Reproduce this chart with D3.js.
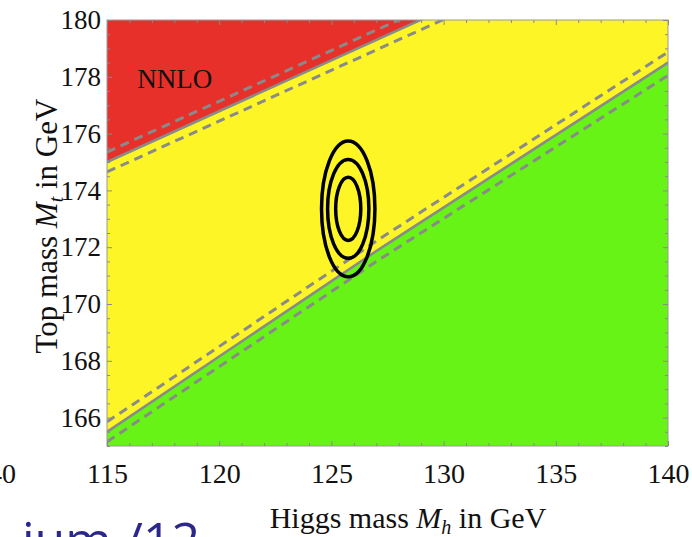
<!DOCTYPE html>
<html>
<head>
<meta charset="utf-8">
<script src="https://cdn.jsdelivr.net/npm/d3@7"></script>
<style>
  body { margin: 0; background: #fff; }
  svg { display: block; }
  text { font-family: "Liberation Serif", "DejaVu Serif", serif; fill: #111; }
</style>
</head>
<body>
<svg></svg>
<script>
// values
const higgsDomain = [115, 140];
const topDomain = [165, 180];
const xTicks = [115, 120, 125, 130, 135, 140];
const yTicks = [166, 168, 170, 172, 174, 176, 178, 180];

// stability boundary (red / yellow): Mt at given Mh
const redMh = [115, 140];
const redMt = [175.0, 183.95];
const redMtUp = [175.35, 184.3];
const redMtLo = [174.65, 183.6];

// stability boundary (yellow / green)
const greenMh = [115, 127.2, 140];
const greenMt = [165.5, 171.97, 178.5];
const greenMtUp = [165.85, 172.32, 178.87];
const greenMtLo = [165.15, 171.6, 178.05];

// measured point, 1/2/3 sigma contours (GeV half axes)
const bestMh = 125.75;
const bestMt = 173.35;
const contourRx = [0.56, 0.92, 1.19];
const contourRy = [1.11, 1.74, 2.39];

const W = 692, H = 537;
const plotL = 107, plotR = 668, plotT = 20, plotB = 446;
const serif = "'Liberation Serif', 'DejaVu Serif', serif";

const svg = d3.select("svg").attr("width", W).attr("height", H);

const x = d3.scaleLinear().domain(higgsDomain).range([plotL, plotR]);
const y = d3.scaleLinear().domain(topDomain).range([plotB, plotT]);

svg.append("clipPath").attr("id", "plot")
  .append("rect")
  .attr("x", plotL).attr("y", plotT)
  .attr("width", plotR - plotL).attr("height", plotB - plotT);

const plot = svg.append("g").attr("clip-path", "url(#plot)");

// yellow background = metastable
plot.append("rect")
  .attr("x", plotL).attr("y", plotT)
  .attr("width", plotR - plotL).attr("height", plotB - plotT)
  .style("fill", "#fdf526");

// red region = instability (above the red line)
const redArea = d3.area()
  .x(d => x(d[0]))
  .y0(y(topDomain[1]) - 5)
  .y1(d => y(d[1]));
plot.append("path")
  .datum(d3.zip(redMh, redMt))
  .attr("d", redArea)
  .style("fill", "#e7302a");

// green region = stability (below the green line)
const greenArea = d3.area()
  .x(d => x(d[0]))
  .y0(y(topDomain[0]) + 5)
  .y1(d => y(d[1]));
plot.append("path")
  .datum(d3.zip(greenMh, greenMt))
  .attr("d", greenArea)
  .style("fill", "#68f316");

const line = d3.line().x(d => x(d[0])).y(d => y(d[1]));

const boundaries = [
  [redMh, redMt, false], [redMh, redMtUp, true], [redMh, redMtLo, true],
  [greenMh, greenMt, false], [greenMh, greenMtUp, true], [greenMh, greenMtLo, true]
];
boundaries.forEach(b => {
  plot.append("path")
    .datum(d3.zip(b[0], b[1]))
    .attr("d", line)
    .style("fill", "none")
    .style("stroke", "#8a8a8a")
    .style("stroke-width", b[2] ? 3 : 2.6)
    .style("stroke-dasharray", b[2] ? "9,6" : null);
});

// contours
plot.selectAll("ellipse.contour")
  .data(contourRx)
  .enter()
  .append("ellipse")
  .attr("class", "contour")
  .attr("cx", x(bestMh))
  .attr("cy", y(bestMt))
  .attr("rx", d => x(bestMh + d) - x(bestMh))
  .attr("ry", (d, i) => y(bestMt) - y(bestMt + contourRy[i]))
  .style("fill", "none")
  .style("stroke", "#000")
  .style("stroke-width", 3.5);

plot.append("text")
  .attr("x", x(116.35))
  .attr("y", y(177.6))
  .style("font-size", "27px")
  .text("NNLO");

// frame
svg.append("rect")
  .attr("x", plotL).attr("y", plotT)
  .attr("width", plotR - plotL).attr("height", plotB - plotT)
  .style("fill", "none")
  .style("stroke", "#9a9a9a")
  .style("stroke-width", 1);

// ticks (pointing inward)
const xMinor = d3.range(116, 140, 1).filter(v => v % 5 !== 0);
const yMinor = d3.range(165, 180.01, 0.5).filter(v => v % 2 !== 0);

function tickStyle(g) {
  g.attr("font-family", serif).attr("font-size", 27);
  g.select(".domain").remove();
  g.selectAll(".tick line").style("stroke", "#8a8a8a");
  g.selectAll(".tick text").attr("fill", "#111");
}

svg.append("g")
  .attr("transform", `translate(0,${plotB})`)
  .call(d3.axisBottom(x).tickValues(xTicks).tickSize(-5).tickPadding(17).tickFormat(d3.format("d")))
  .call(tickStyle)
  .attr("font-size", 28);

svg.append("g")
  .attr("transform", `translate(0,${plotB})`)
  .call(d3.axisBottom(x).tickValues(xMinor).tickSize(-3).tickFormat(""))
  .call(tickStyle);

svg.append("g")
  .attr("transform", `translate(0,${plotT})`)
  .call(d3.axisTop(x).tickValues(xTicks).tickSize(-5).tickFormat(""))
  .call(tickStyle);

svg.append("g")
  .attr("transform", `translate(0,${plotT})`)
  .call(d3.axisTop(x).tickValues(xMinor).tickSize(-3).tickFormat(""))
  .call(tickStyle);

svg.append("g")
  .attr("transform", `translate(${plotL},0)`)
  .call(d3.axisLeft(y).tickValues(yTicks).tickSize(-5).tickPadding(6).tickFormat(d3.format("d")))
  .call(tickStyle);

svg.append("g")
  .attr("transform", `translate(${plotL},0)`)
  .call(d3.axisLeft(y).tickValues(yMinor).tickSize(-3).tickFormat(""))
  .call(tickStyle);

svg.append("g")
  .attr("transform", `translate(${plotR},0)`)
  .call(d3.axisRight(y).tickValues(yTicks).tickSize(-5).tickFormat(""))
  .call(tickStyle);

svg.append("g")
  .attr("transform", `translate(${plotR},0)`)
  .call(d3.axisRight(y).tickValues(yMinor).tickSize(-3).tickFormat(""))
  .call(tickStyle);

// axis titles
const xTitle = svg.append("text")
  .attr("x", 408).attr("y", 528)
  .attr("text-anchor", "middle")
  .style("font-size", "30px");
xTitle.append("tspan").text("Higgs mass ");
xTitle.append("tspan").style("font-style", "italic").text("M");
xTitle.append("tspan").style("font-style", "italic").style("font-size", "20px").attr("dy", 6).text("h");
xTitle.append("tspan").attr("dy", -6).text(" in GeV");

const yTitle = svg.append("text")
  .attr("transform", "translate(57,226) rotate(-90)")
  .attr("text-anchor", "middle")
  .style("font-size", "31px");
yTitle.append("tspan").text("Top mass ");
yTitle.append("tspan").style("font-style", "italic").text("M");
yTitle.append("tspan").style("font-style", "italic").style("font-size", "20px").attr("dy", 6).text("t");
yTitle.append("tspan").attr("dy", -6).text(" in GeV");

// cut-off pieces of the neighbouring slide
svg.append("text")
  .attr("x", 16).attr("y", 483)
  .attr("text-anchor", "end")
  .style("font-size", "28px")
  .text("140");

svg.append("text")
  .attr("x", 22).attr("y", 558)
  .style("font-family", "'Open Sans', sans-serif")
  .style("font-size", "50px")
  .style("fill", "#2b288a")
  .text("ium /12");
</script>
</body>
</html>
